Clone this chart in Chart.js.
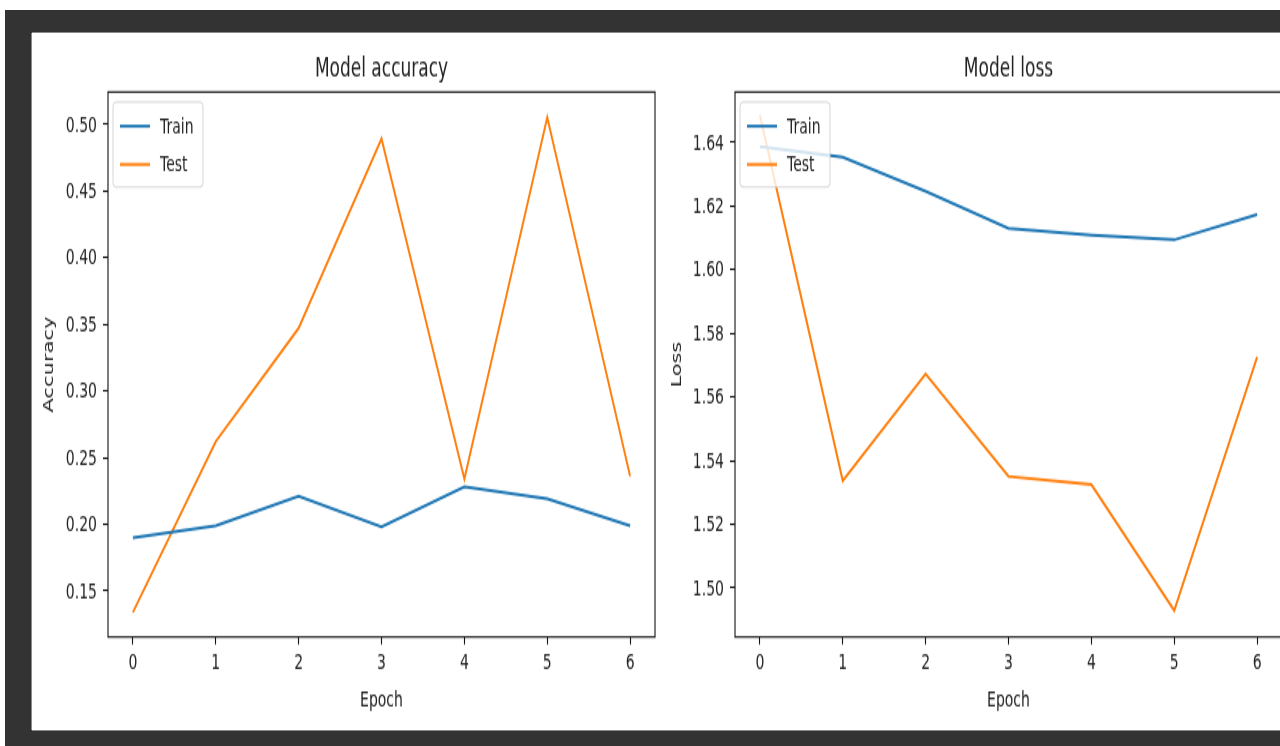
<!DOCTYPE html>
<html>
<head>
<meta charset="utf-8">
<script src="https://cdn.jsdelivr.net/npm/chart.js@4"></script>
<style>
  html, body { margin: 0; padding: 0; width: 1280px; height: 746px; overflow: hidden; background: #ffffff; }
  #frame { position: absolute; left: 5px; top: 10px; width: 1275px; height: 736px; background: #333333; }
  #inner { position: absolute; left: 32px; top: 33px; width: 1248px; height: 697px; background: #ffffff;
           box-shadow: 0 -1px 0 #8a8a8a, 0 1px 0 #8a8a8a, -1px 0 0 #8a8a8a; }
  .wrap { position: absolute; top: 33px; height: 465px; transform: scaleY(1.5); transform-origin: 0 0; }
  #wrapA { left: 32px; width: 625px; }
  #wrapB { left: 657px; width: 627px; }
  canvas { display: block; }
</style>
</head>
<body>
<div id="frame"></div>
<div id="inner"></div>
<div class="wrap" id="wrapA"><canvas id="accChart" width="625" height="465"></canvas></div>
<div class="wrap" id="wrapB"><canvas id="lossChart" width="627" height="465"></canvas></div>
<script>
// ---- data ----
const epochs = [0, 1, 2, 3, 4, 5, 6];
const seriesNames = ['Train', 'Test'];
const trainAccuracy = [0.190, 0.199, 0.221, 0.198, 0.228, 0.219, 0.199];
const testAccuracy  = [0.134, 0.262, 0.347, 0.489, 0.234, 0.505, 0.236];
const trainLoss = [1.6385, 1.6352, 1.6245, 1.6129, 1.6108, 1.6093, 1.6172];
const testLoss  = [1.6485, 1.5337, 1.5672, 1.5350, 1.5325, 1.4929, 1.5725];
const chartTitles = ['Model accuracy', 'Model loss'];
const yAxisTitles = ['Accuracy', 'Loss'];
const xAxisTitle = 'Epoch';
const accuracyRange = [0.1155, 0.524];
const lossRange = [1.4846, 1.6557];

const BLUE = '#1f77b4', ORANGE = '#ff7f0e';
const FONT = 'DejaVu Sans';
Chart.defaults.font.family = FONT;
Chart.defaults.color = '#222';

const pts = (ys) => ys.map((y, i) => ({ x: epochs[i], y }));

// axes box (all four spines) drawn after the datasets
const framePlugin = {
  id: 'frameBox',
  afterDatasetsDraw(chart) {
    const { ctx, chartArea: a } = chart;
    ctx.save();
    ctx.strokeStyle = '#111';
    ctx.lineWidth = 1.1;
    ctx.strokeRect(a.left, a.top, a.right - a.left, a.bottom - a.top);
    ctx.restore();
  }
};

// matplotlib-style legend inside the axes, upper left, above the lines
const innerLegend = {
  id: 'innerLegend',
  afterDatasetsDraw(chart) {
    const { ctx, chartArea: a } = chart;
    const bx = a.left + 5, by = a.top + 6.7, bw = 90, bh = 56.7, r = 3;
    ctx.save();
    ctx.beginPath();
    ctx.moveTo(bx + r, by);
    ctx.arcTo(bx + bw, by, bx + bw, by + bh, r);
    ctx.arcTo(bx + bw, by + bh, bx, by + bh, r);
    ctx.arcTo(bx, by + bh, bx, by, r);
    ctx.arcTo(bx, by, bx + bw, by, r);
    ctx.closePath();
    ctx.fillStyle = 'rgba(255,255,255,0.8)';
    ctx.fill();
    ctx.strokeStyle = 'rgba(204,204,204,0.8)';
    ctx.lineWidth = 1;
    ctx.stroke();
    chart.data.datasets.forEach((ds, i) => {
      const y = a.top + 22.8 + i * 25.5;
      ctx.beginPath();
      ctx.moveTo(bx + 7, y);
      ctx.lineTo(bx + 37, y);
      ctx.strokeStyle = ds.borderColor;
      ctx.lineWidth = 2;
      ctx.stroke();
      ctx.fillStyle = '#222';
      ctx.font = '14px "' + FONT + '"';
      ctx.textBaseline = 'middle';
      ctx.textAlign = 'left';
      ctx.fillText(ds.label, bx + 47, y + 0.9);
    });
    ctx.restore();
  }
};

function makeChart(canvasId, title, yTitle, trainVals, testVals, range, yStep, yAxisWidth, yTitlePad) {
  return new Chart(document.getElementById(canvasId), {
    type: 'line',
    data: {
      datasets: [
        { label: seriesNames[0], data: pts(trainVals), borderColor: BLUE, backgroundColor: BLUE,
          borderWidth: 2, pointRadius: 0, tension: 0, fill: false },
        { label: seriesNames[1], data: pts(testVals), borderColor: ORANGE, backgroundColor: ORANGE,
          borderWidth: 2, pointRadius: 0, tension: 0, fill: false }
      ]
    },
    options: {
      responsive: false,
      animation: false,
      devicePixelRatio: 1,
      layout: { padding: { left: 0, right: 2, top: 0, bottom: 0 } },
      plugins: {
        legend: { display: false },
        tooltip: { enabled: false },
        title: {
          display: true, text: title, fullSize: false, color: '#222',
          font: { family: FONT, size: 17, weight: 'normal', lineHeight: 1.2 },
          padding: { top: 14.5, bottom: 4.43 }
        }
      },
      scales: {
        x: {
          type: 'linear', min: -0.3, max: 6.3,
          border: { display: false },
          grid: { drawOnChartArea: false, drawTicks: true, tickLength: 5, tickColor: '#111', tickWidth: 1.1 },
          ticks: { stepSize: 1, includeBounds: false, padding: 4.5, color: '#222',
                   font: { family: FONT, size: 14 }, callback: (v) => String(v) },
          title: { display: true, text: xAxisTitle, color: '#222',
                   font: { family: FONT, size: 14 }, padding: { top: 0, bottom: 11.5 } },
          afterFit: (s) => { s.height = 62.33; }
        },
        y: {
          type: 'linear', min: range[0], max: range[1],
          border: { display: false },
          grid: { drawOnChartArea: false, drawTicks: true, tickLength: 5, tickColor: '#111', tickWidth: 1.1 },
          ticks: { stepSize: yStep, includeBounds: false, padding: 6, labelOffset: 1.2, color: '#222',
                   font: { family: FONT, size: 14 }, callback: (v) => Number(v).toFixed(2) },
          title: { display: true, text: yTitle, color: '#222',
                   font: { family: FONT, size: 14 }, padding: { top: yTitlePad, bottom: 0 } },
          afterFit: (s) => { s.width = yAxisWidth; }
        }
      }
    },
    plugins: [framePlugin, innerLegend]
  });
}

makeChart('accChart', chartTitles[0], yAxisTitles[0], trainAccuracy, testAccuracy, accuracyRange, 0.05, 76, 8.66);
makeChart('lossChart', chartTitles[1], yAxisTitles[1], trainLoss, testLoss, lossRange, 0.02, 78, 11.66);
</script>
</body>
</html>
